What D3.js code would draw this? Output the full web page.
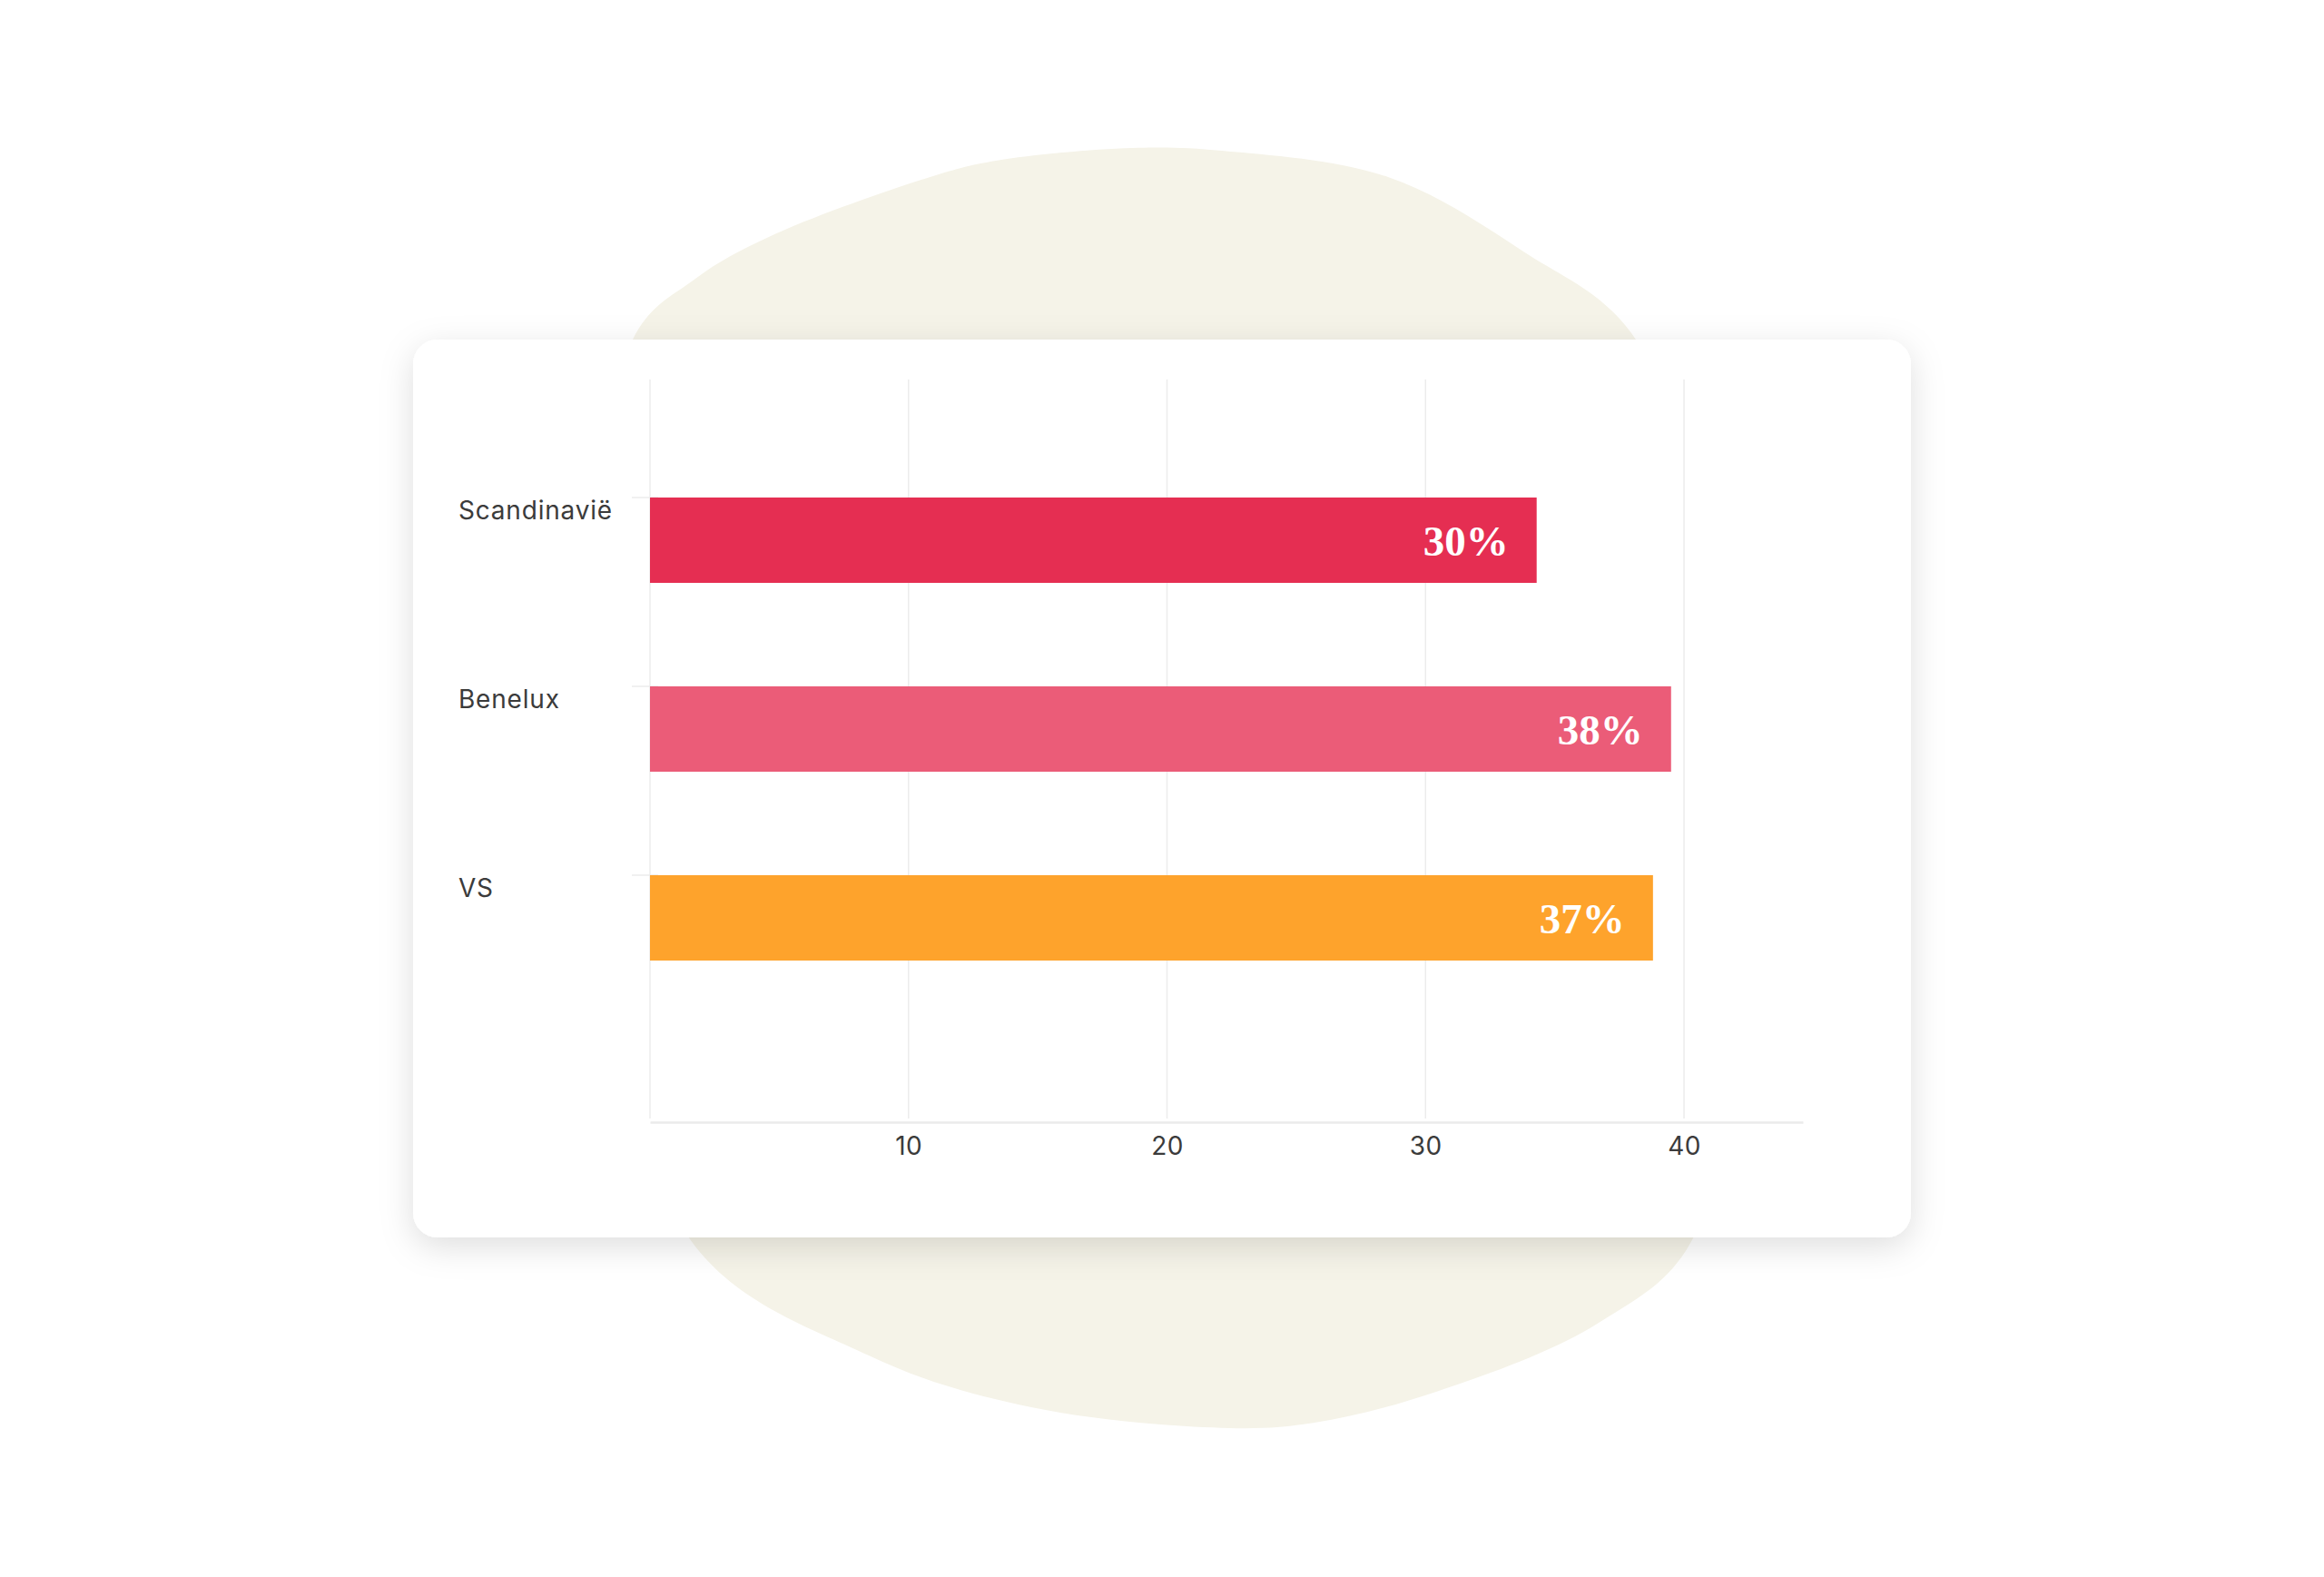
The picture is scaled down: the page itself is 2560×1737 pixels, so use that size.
<!DOCTYPE html>
<html>
<head>
<meta charset="utf-8">
<script src="https://cdn.jsdelivr.net/npm/d3@7"></script>
<style>
    html, body { margin: 0; padding: 0; background: #ffffff; }
    svg { display: block; }
</style>
</head>
<body>
<svg id="chart" width="2560" height="1737"></svg>
<script>
(function() {
    'use strict';

    // Chart data
    const categories = ['Scandinavië', 'Benelux', 'VS'];
    const values = [34.3, 39.5, 38.8];
    const valueLabels = ['30%', '38%', '37%'];
    const barColors = ['#e52e52', '#eb5c78', '#fea32c'];
    const xTicks = [10, 20, 30, 40];
    const xMax = 44.6;

    // Layout (pixels)
    const card = { x: 455, y: 374, w: 1650, h: 989, r: 27 };
    const plot = { left: 716, right: 1986, top: 418, bottom: 1236 };
    const barsTop = 548, barsBottom = 1058;

    // Decorative background blob outline
    const blobOutline = [
        [849, 260], [1031, 193], [1097, 177], [1247, 163], [1346, 166],
        [1529, 195], [1678, 277], [1802, 374], [1930, 820], [1866, 1362],
        [1761, 1457], [1582, 1533], [1448, 1567], [1354, 1573], [1136, 1550],
        [957, 1493], [758, 1362], [650, 860], [697, 374], [766, 307]
    ];

    const svg = d3.select('#chart');

    const defs = svg.append('defs');
    const shadow = defs.append('filter')
        .attr('id', 'card-shadow')
        .attr('x', '-10%').attr('y', '-10%')
        .attr('width', '120%').attr('height', '130%');
    shadow.append('feDropShadow')
        .attr('dx', 0)
        .attr('dy', 10)
        .attr('stdDeviation', 18)
        .attr('flood-color', '#000000')
        .attr('flood-opacity', 0.13);

    // Blob
    svg.append('path')
        .attr('d', d3.line().curve(d3.curveCatmullRomClosed.alpha(0.5))(blobOutline))
        .attr('fill', '#f5f3e8');

    // Card
    svg.append('rect')
        .attr('x', card.x)
        .attr('y', card.y)
        .attr('width', card.w)
        .attr('height', card.h)
        .attr('rx', card.r)
        .attr('fill', '#ffffff')
        .attr('filter', 'url(#card-shadow)');

    const x = d3.scaleLinear()
        .domain([0, xMax])
        .range([plot.left, plot.right]);

    const y = d3.scaleBand()
        .domain(categories)
        .range([barsTop, barsBottom])
        .paddingInner(0.548)
        .paddingOuter(0);

    const g = svg.append('g');

    // Vertical gridlines (including zero line)
    g.selectAll('.grid')
        .data([0].concat(xTicks))
        .enter()
        .append('line')
        .attr('x1', d => x(d))
        .attr('x2', d => x(d))
        .attr('y1', plot.top)
        .attr('y2', plot.bottom - 4)
        .attr('stroke', '#ececec')
        .attr('stroke-width', 1.5);

    // Category ticks
    g.selectAll('.ytick')
        .data(categories)
        .enter()
        .append('line')
        .attr('x1', plot.left - 20)
        .attr('x2', plot.left + 9)
        .attr('y1', d => y(d))
        .attr('y2', d => y(d))
        .attr('stroke', '#ececec')
        .attr('stroke-width', 1.5);

    // X axis
    const xAxis = g.append('g')
        .attr('transform', `translate(0,${plot.bottom})`)
        .call(d3.axisBottom(x).tickValues(xTicks).tickSize(0).tickPadding(16).tickSizeOuter(0));
    xAxis.select('.domain')
        .attr('stroke', '#ebebeb')
        .attr('stroke-width', 2.5);
    xAxis.selectAll('text')
        .attr('font-family', 'Inter, Lato, sans-serif')
        .attr('font-size', 28)
        .attr('letter-spacing', 0.5)
        .attr('fill', '#3b3b3b');

    // Bars
    g.selectAll('.bar')
        .data(categories)
        .enter()
        .append('rect')
        .attr('class', 'bar')
        .attr('x', x(0))
        .attr('y', d => y(d))
        .attr('width', (d, i) => x(values[i]) - x(0))
        .attr('height', y.bandwidth())
        .attr('fill', (d, i) => barColors[i]);

    // Category labels
    g.selectAll('.cat-label')
        .data(categories)
        .enter()
        .append('text')
        .attr('x', 505)
        .attr('y', d => y(d) + 24)
        .attr('font-family', 'Inter, Lato, sans-serif')
        .attr('font-size', 28)
        .attr('letter-spacing', 0.8)
        .attr('fill', '#3b3b3b')
        .text(d => d);

    // Value labels inside bars
    g.selectAll('.value-label')
        .data(categories)
        .enter()
        .append('text')
        .attr('x', (d, i) => x(values[i]) - 31)
        .attr('y', d => y(d) + y.bandwidth() / 2 + 17)
        .attr('text-anchor', 'end')
        .attr('font-family', '"Liberation Serif", "DejaVu Serif", serif')
        .attr('font-weight', 700)
        .attr('font-size', 47)
        .attr('fill', '#ffffff')
        .text((d, i) => valueLabels[i]);
})();
</script>
</body>
</html>
